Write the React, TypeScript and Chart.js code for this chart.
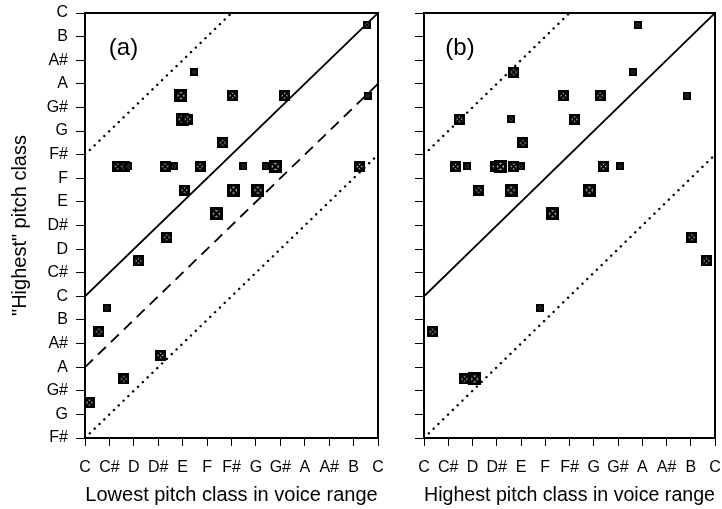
import React, { useEffect, useRef } from 'react';
import { Chart, registerables } from 'chart.js';
Chart.register(...registerables);

const FONT = "'Liberation Sans', Arial, Helvetica, sans-serif";

// Axis tick labels
const xTickLabels = ['C', 'C#', 'D', 'D#', 'E', 'F', 'F#', 'G', 'G#', 'A', 'A#', 'B', 'C'];
const yTickLabels = ['F#', 'G', 'G#', 'A', 'A#', 'B', 'C', 'C#', 'D', 'D#', 'E', 'F', 'F#', 'G', 'G#', 'A', 'A#', 'B', 'C'];

// Panel (a): lowest pitch class (x) vs "highest" pitch class (y), marker size class 1..3
const aLowest = [11.55, 4.48, 3.93, 6.04, 8.17, 11.57, 3.98, 4.2, 5.64, 1.35, 1.6, 1.78, 3.28, 3.65, 4.71, 6.49, 7.4, 7.79, 11.24, 4.07, 6.08, 7.08, 5.38, 3.35, 2.19, 0.89, 0.57, 3.09, 1.59, 0.18];
const aHighest = [17.5, 15.5, 14.5, 14.5, 14.5, 14.5, 13.5, 13.5, 12.5, 11.5, 11.5, 11.5, 11.5, 11.5, 11.5, 11.5, 11.5, 11.5, 11.5, 10.5, 10.5, 10.5, 9.5, 8.5, 7.5, 5.5, 4.5, 3.5, 2.5, 1.5];
const aSize = [1, 1, 3, 2, 2, 1, 3, 2, 2, 2, 2, 1, 2, 1, 2, 1, 1, 3, 2, 2, 3, 3, 3, 2, 2, 1, 2, 2, 2, 2];

// Panel (b): highest pitch class in voice range (x) vs "highest" pitch class (y)
const bRangeHighest = [8.81, 3.7, 8.63, 5.75, 7.26, 10.83, 1.46, 3.59, 6.21, 4.08, 1.3, 1.78, 2.95, 3.15, 3.7, 4.0, 7.4, 8.1, 2.26, 3.59, 6.82, 5.3, 11.04, 11.65, 4.79, 0.36, 1.67, 2.09];
const bHighest = [17.5, 15.5, 15.5, 14.5, 14.5, 14.5, 13.5, 13.5, 13.5, 12.5, 11.5, 11.5, 11.5, 11.5, 11.5, 11.5, 11.5, 11.5, 10.5, 10.5, 10.5, 9.5, 8.5, 7.5, 5.5, 4.5, 2.5, 2.5];
const bSize = [1, 2, 1, 2, 2, 1, 2, 1, 2, 2, 2, 1, 2, 3, 2, 1, 2, 1, 2, 3, 3, 3, 2, 2, 1, 2, 2, 3];

// Reference lines (pitch units)
const solidX = [0, 12];
const solidY = [6, 18];
const upperDotX = [0, 6];
const upperDotY = [12, 18];
const lowerDotX = [0, 12];
const lowerDotY = [0, 12];
const dashedX = [0, 12];
const dashedY = [3, 15];

const markerPx: Record<number, number> = { 1: 8, 2: 11, 3: 13 };

function makeMarker(s: number): HTMLCanvasElement {
  const c = document.createElement('canvas');
  c.width = s;
  c.height = s;
  const g = c.getContext('2d')!;
  g.fillStyle = '#000';
  g.fillRect(0, 0, s, s);
  const b = s >= 12 ? 3.3 : s >= 10 ? 2.8 : 2.1;
  g.fillStyle = '#fff';
  g.fillRect(b, b, s - 2 * b, s - 2 * b);
  g.strokeStyle = '#000';
  g.lineWidth = s >= 12 ? 2.6 : s >= 10 ? 2.2 : 1.7;
  g.beginPath();
  g.moveTo(b, b);
  g.lineTo(s - b, s - b);
  g.moveTo(s - b, b);
  g.lineTo(b, s - b);
  g.stroke();
  return c;
}

function pts(xs: number[], ys: number[]) {
  return xs.map((x, i) => ({ x, y: ys[i] }));
}

type PanelProps = {
  width: number;
  letter: string;
  letterDx: number;
  xs: number[];
  ys: number[];
  sizes: number[];
  dashed: boolean;
  yLabels: boolean;
  yWidth: number;
  padRight: number;
  xTitle: string;
  yTitle: string;
};

function Panel(p: PanelProps) {
  const ref = useRef<HTMLCanvasElement>(null);
  useEffect(() => {
    const imgs: Record<number, HTMLCanvasElement> = {
      1: makeMarker(markerPx[1]),
      2: makeMarker(markerPx[2]),
      3: makeMarker(markerPx[3]),
    };
    const lineBase = { showLine: true, pointRadius: 0, borderColor: '#000', fill: false, order: 2 };
    const datasets: any[] = [
      {
        label: 'data',
        data: pts(p.xs, p.ys),
        pointStyle: (c: any) => imgs[p.sizes[c.dataIndex]] || imgs[2],
        pointRadius: 5,
        showLine: false,
        order: 0,
      },
      { ...lineBase, label: 'solid', data: pts(solidX, solidY), borderWidth: 1.8 },
      { ...lineBase, label: 'upper', data: pts(upperDotX, upperDotY), borderWidth: 2.4, borderDash: [0.1, 6.6], borderCapStyle: 'round' },
      { ...lineBase, label: 'lower', data: pts(lowerDotX, lowerDotY), borderWidth: 2.4, borderDash: [0.1, 6.6], borderCapStyle: 'round' },
    ];
    if (p.dashed) {
      datasets.push({ ...lineBase, label: 'dashed', data: pts(dashedX, dashedY), borderWidth: 1.8, borderDash: [11, 7] });
    }
    const framePlugin = {
      id: 'frame' + p.letter,
      afterDraw(chart: any) {
        const { ctx, chartArea } = chart;
        const { left, top, right, bottom } = chartArea;
        ctx.save();
        ctx.strokeStyle = '#000';
        ctx.lineWidth = 2;
        ctx.beginPath();
        ctx.moveTo(left, top);
        ctx.lineTo(right, top);
        ctx.lineTo(right, bottom);
        ctx.stroke();
        ctx.fillStyle = '#000';
        ctx.font = `24px ${FONT}`;
        ctx.textAlign = 'center';
        ctx.textBaseline = 'middle';
        ctx.fillText(p.letter, left + p.letterDx, top + 35);
        ctx.restore();
      },
    };
    const zeroPad = (s: any) => {
      s.paddingTop = 0;
      s.paddingBottom = 0;
      s.paddingLeft = 0;
      s.paddingRight = 0;
    };
    const chart = new Chart(ref.current!, {
      type: 'scatter',
      data: { datasets },
      plugins: [framePlugin],
      options: {
        animation: false,
        responsive: false,
        maintainAspectRatio: false,
        layout: { padding: { top: 13, right: p.padRight, bottom: 0, left: 0 } },
        plugins: { legend: { display: false }, tooltip: { enabled: false } },
        scales: {
          x: {
            type: 'linear',
            min: 0,
            max: 12,
            position: 'bottom',
            ticks: {
              stepSize: 1,
              autoSkip: false,
              maxRotation: 0,
              padding: 12,
              color: '#000',
              font: { size: 16, family: FONT },
              callback: (v: any) => xTickLabels[Math.round(Number(v))],
            },
            grid: { drawOnChartArea: false, drawTicks: true, tickLength: 8, color: '#000', lineWidth: 1 },
            border: { display: true, color: '#000', width: 2 },
            title: { display: true, text: p.xTitle, color: '#000', font: { size: 20, family: FONT }, padding: { top: 0, bottom: 2 } },
            afterFit: (s: any) => {
              s.height = 71;
              zeroPad(s);
            },
          },
          y: {
            type: 'linear',
            min: 0,
            max: 18,
            ticks: {
              stepSize: 1,
              autoSkip: false,
              display: p.yLabels,
              padding: 8,
              color: '#000',
              font: { size: 16, family: FONT },
              callback: (v: any) => yTickLabels[Math.round(Number(v))],
            },
            grid: { drawOnChartArea: false, drawTicks: true, tickLength: 9, color: '#000', lineWidth: 1 },
            border: { display: true, color: '#000', width: 2 },
            title: { display: p.yTitle !== '', text: p.yTitle, color: '#000', font: { size: 20, family: FONT }, padding: { top: 8, bottom: 0 } },
            afterFit: (s: any) => {
              s.width = p.yWidth;
              zeroPad(s);
            },
          },
        },
      } as any,
    });
    return () => chart.destroy();
  }, []);
  return <canvas ref={ref} width={p.width} height={509} style={{ width: p.width, height: 509, display: 'block' }} />;
}

export default function App() {
  return (
    <div style={{ position: 'absolute', left: 0, top: 0, width: 722, height: 509, background: '#fff', display: 'flex' }}>
      <Panel
        width={384}
        letter="(a)"
        letterDx={38.5}
        xs={aLowest}
        ys={aHighest}
        sizes={aSize}
        dashed={true}
        yLabels={true}
        yWidth={85}
        padRight={6}
        xTitle="Lowest pitch class in voice range"
        yTitle={'"Highest" pitch class'}
      />
      <Panel
        width={338}
        letter="(b)"
        letterDx={36}
        xs={bRangeHighest}
        ys={bHighest}
        sizes={bSize}
        dashed={false}
        yLabels={false}
        yWidth={40}
        padRight={7}
        xTitle="Highest pitch class in voice range"
        yTitle=""
      />
    </div>
  );
}
